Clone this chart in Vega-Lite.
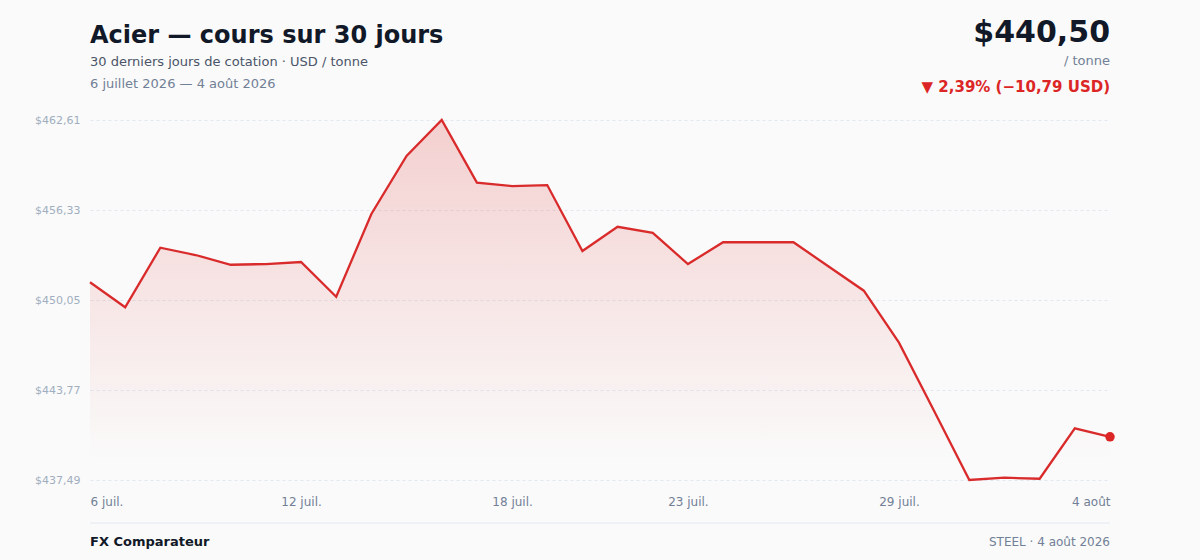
{
  "$schema": "https://vega.github.io/schema/vega-lite/v6.json",
  "width": 1020,
  "height": 360,
  "autosize": "none",
  "padding": {"left": 90, "right": 90, "top": 120, "bottom": 80},
  "background": "#fafafa",
  "config": {
    "font": "DejaVu Sans",
    "view": {"stroke": null},
    "axis": {"domain": false, "ticks": false, "title": null}
  },
  "data": {
    "values": [
      {"date": "2026-07-06", "price": 451.29},
      {"date": "2026-07-07", "price": 449.54},
      {"date": "2026-07-08", "price": 453.70},
      {"date": "2026-07-09", "price": 453.19},
      {"date": "2026-07-10", "price": 452.51},
      {"date": "2026-07-11", "price": 452.56},
      {"date": "2026-07-12", "price": 452.70},
      {"date": "2026-07-13", "price": 450.28},
      {"date": "2026-07-14", "price": 456.05},
      {"date": "2026-07-15", "price": 460.10},
      {"date": "2026-07-16", "price": 462.61},
      {"date": "2026-07-17", "price": 458.24},
      {"date": "2026-07-18", "price": 458.00},
      {"date": "2026-07-19", "price": 458.07},
      {"date": "2026-07-20", "price": 453.47},
      {"date": "2026-07-21", "price": 455.16},
      {"date": "2026-07-22", "price": 454.73},
      {"date": "2026-07-23", "price": 452.56},
      {"date": "2026-07-24", "price": 454.08},
      {"date": "2026-07-25", "price": 454.08},
      {"date": "2026-07-26", "price": 454.08},
      {"date": "2026-07-27", "price": 452.39},
      {"date": "2026-07-28", "price": 450.70},
      {"date": "2026-07-29", "price": 447.07},
      {"date": "2026-07-30", "price": 442.30},
      {"date": "2026-07-31", "price": 437.49},
      {"date": "2026-08-01", "price": 437.65},
      {"date": "2026-08-02", "price": 437.58},
      {"date": "2026-08-03", "price": 441.10},
      {"date": "2026-08-04", "price": 440.50}
    ],
    "format": {"parse": {"date": "utc:'%Y-%m-%d'"}}
  },
  "encoding": {
    "x": {
      "field": "date",
      "type": "temporal",
      "scale": {
        "type": "utc",
        "domain": [
          {"year": 2026, "month": 7, "date": 6, "utc": true},
          {"year": 2026, "month": 8, "date": 4, "utc": true}
        ]
      },
      "axis": {
        "grid": false,
        "values": [
          {"year": 2026, "month": 7, "date": 6, "utc": true},
          {"year": 2026, "month": 7, "date": 12, "utc": true},
          {"year": 2026, "month": 7, "date": 18, "utc": true},
          {"year": 2026, "month": 7, "date": 23, "utc": true},
          {"year": 2026, "month": 7, "date": 29, "utc": true},
          {"year": 2026, "month": 8, "date": 4, "utc": true}
        ],
        "labelExpr": "utcdate(datum.value) + ' ' + (utcmonth(datum.value) == 6 ? 'juil.' : 'août')",
        "labelFlush": true,
        "labelColor": "#718096",
        "labelFontSize": 12,
        "labelPadding": 16
      }
    },
    "y": {
      "field": "price",
      "type": "quantitative",
      "scale": {"domain": [437.49, 462.61], "zero": false, "nice": false},
      "axis": {
        "values": [437.49, 443.77, 450.05, 456.33, 462.61],
        "labelExpr": "'$' + replace(format(datum.value, '.2f'), '.', ',')",
        "grid": true,
        "gridColor": "#e2e8f0",
        "gridDash": [3, 3],
        "labelColor": "#a0aec0",
        "labelFontSize": 11,
        "labelPadding": 10
      }
    }
  },
  "layer": [
    {
      "mark": {
        "type": "area",
        "fill": {
          "gradient": "linear",
          "x1": 0, "y1": 0, "x2": 0, "y2": 1,
          "stops": [
            {"offset": 0, "color": "rgba(220,38,38,0.20)"},
            {"offset": 0.95, "color": "rgba(220,38,38,0)"}
          ]
        }
      },
      "encoding": {"y2": {"datum": 437.49}}
    },
    {
      "mark": {"type": "line", "color": "#d92b2b", "strokeWidth": 2.3}
    },
    {
      "transform": [{"filter": "utcmonth(datum.date) == 7 && utcdate(datum.date) == 4"}],
      "mark": {"type": "point", "filled": true, "color": "#dc2626", "size": 90, "opacity": 1}
    },
    {
      "transform": [{"filter": "utcmonth(datum.date) == 6 && utcdate(datum.date) == 6"}],
      "mark": {"type": "text", "text": "Acier — cours sur 30 jours", "align": "left", "baseline": "alphabetic", "dy": -77, "fontSize": 24, "fontWeight": "bold", "color": "#111827"},
      "encoding": {"y": {"datum": 462.61}}
    },
    {
      "transform": [{"filter": "utcmonth(datum.date) == 6 && utcdate(datum.date) == 6"}],
      "mark": {"type": "text", "text": "30 derniers jours de cotation · USD / tonne", "align": "left", "baseline": "alphabetic", "dy": -54, "fontSize": 13, "color": "#4a5568"},
      "encoding": {"y": {"datum": 462.61}}
    },
    {
      "transform": [{"filter": "utcmonth(datum.date) == 6 && utcdate(datum.date) == 6"}],
      "mark": {"type": "text", "text": "6 juillet 2026 — 4 août 2026", "align": "left", "baseline": "alphabetic", "dy": -32, "fontSize": 13, "color": "#718096"},
      "encoding": {"y": {"datum": 462.61}}
    },
    {
      "transform": [{"filter": "utcmonth(datum.date) == 7 && utcdate(datum.date) == 4"}],
      "mark": {"type": "text", "text": "$440,50", "align": "right", "baseline": "alphabetic", "dy": -78, "fontSize": 30, "fontWeight": "bold", "color": "#111827"},
      "encoding": {"y": {"datum": 462.61}}
    },
    {
      "transform": [{"filter": "utcmonth(datum.date) == 7 && utcdate(datum.date) == 4"}],
      "mark": {"type": "text", "text": "/ tonne", "align": "right", "baseline": "alphabetic", "dy": -55, "fontSize": 13, "color": "#718096"},
      "encoding": {"y": {"datum": 462.61}}
    },
    {
      "transform": [{"filter": "utcmonth(datum.date) == 7 && utcdate(datum.date) == 4"}],
      "mark": {"type": "text", "text": "▼ 2,39% (−10,79 USD)", "align": "right", "baseline": "alphabetic", "dy": -28, "fontSize": 15, "fontWeight": "bold", "color": "#dc2626"},
      "encoding": {"y": {"datum": 462.61}}
    },
    {
      "transform": [{"filter": "(utcmonth(datum.date) == 6 && utcdate(datum.date) == 6) || (utcmonth(datum.date) == 7 && utcdate(datum.date) == 4)"}],
      "mark": {"type": "line", "color": "#e2e8f0", "strokeWidth": 1},
      "encoding": {"y": {"datum": 434.49}}
    },
    {
      "transform": [{"filter": "utcmonth(datum.date) == 6 && utcdate(datum.date) == 6"}],
      "mark": {"type": "text", "text": "FX Comparateur", "align": "left", "baseline": "alphabetic", "dy": 66, "fontSize": 13, "fontWeight": "bold", "color": "#111827"},
      "encoding": {"y": {"datum": 437.49}}
    },
    {
      "transform": [{"filter": "utcmonth(datum.date) == 7 && utcdate(datum.date) == 4"}],
      "mark": {"type": "text", "text": "STEEL · 4 août 2026", "align": "right", "baseline": "alphabetic", "dy": 66, "fontSize": 12, "color": "#718096"},
      "encoding": {"y": {"datum": 437.49}}
    }
  ]
}
